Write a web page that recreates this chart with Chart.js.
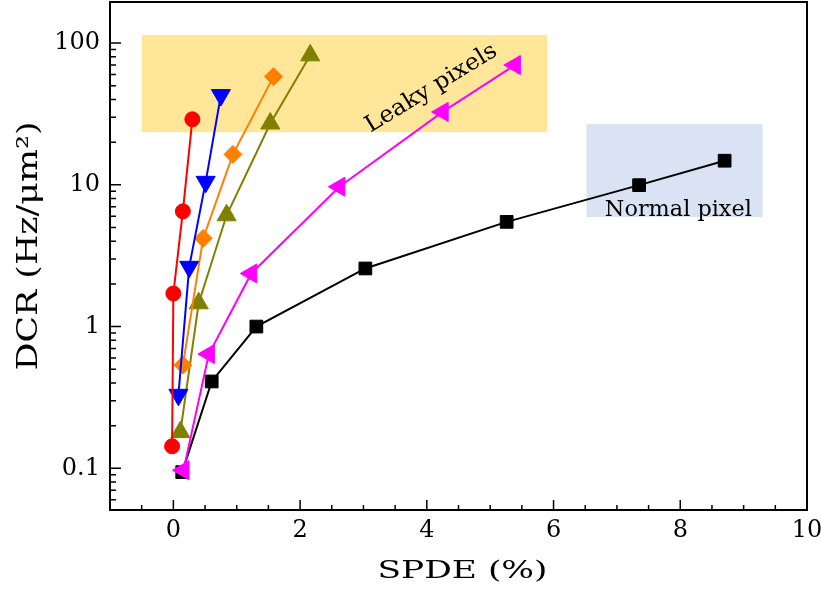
<!DOCTYPE html>
<html>
<head>
<meta charset="utf-8">
<script src="https://cdn.jsdelivr.net/npm/chart.js@4"></script>
<style>
  html, body { margin: 0; padding: 0; background: #fff; }
</style>
</head>
<body>
<canvas id="dcrChart" width="821" height="592"></canvas>
<script>
// SPDE (%) vs DCR (Hz/um^2)
const redX = [-0.02, 0.0, 0.15, 0.30];
const redY = [0.143, 1.71, 6.5, 29];
const blueX = [0.08, 0.25, 0.51, 0.75];
const blueY = [0.33, 2.64, 10.5, 43];
const orangeX = [0.15, 0.47, 0.94, 1.58];
const orangeY = [0.535, 4.19, 16.4, 58];
const oliveX = [0.11, 0.40, 0.84, 1.53, 2.16];
const oliveY = [0.18, 1.46, 6.1, 27.1, 82];
const magentaX = [0.16, 0.56, 1.23, 2.62, 4.25, 5.39];
const magentaY = [0.097, 0.64, 2.37, 9.7, 32.7, 70];
const blackX = [0.14, 0.605, 1.31, 3.03, 5.26, 7.35, 8.70];
const blackY = [0.094, 0.41, 1.0, 2.57, 5.48, 9.95, 14.8];

const xTicks = [0, 2, 4, 6, 8, 10];
const yTicks = [0.1, 1, 10, 100];

// shaded regions: [xmin, xmax, ymin, ymax]
const leakyBox = [-0.5, 5.9, 23.5, 114];
const normalBox = [6.52, 9.3, 5.92, 26.8];

const FONT = 'DejaVu Serif';

function series(xs, ys, color, style, radius, rotation) {
  return {
    data: xs.map((x, i) => ({ x: x, y: ys[i] })),
    showLine: true,
    borderColor: color,
    backgroundColor: color,
    borderWidth: 2,
    pointStyle: style,
    pointRadius: radius,
    pointRotation: rotation || 0,
    pointBorderWidth: 1,
    pointBorderColor: color,
    pointBackgroundColor: color
  };
}

// text squeezed/stretched to a measured width
function fitText(ctx, text, x, y, size, width, angle) {
  ctx.save();
  ctx.font = size + 'px "' + FONT + '"';
  const w = ctx.measureText(text).width;
  ctx.translate(x, y);
  ctx.rotate(angle || 0);
  ctx.scale(width / w, 1);
  ctx.fillStyle = '#000';
  ctx.textAlign = 'center';
  ctx.textBaseline = 'alphabetic';
  ctx.fillText(text, 0, 0);
  ctx.restore();
}

const overlay = {
  id: 'overlay',
  beforeDatasetsDraw(chart) {
    const { ctx, scales: { x, y } } = chart;
    [[leakyBox, '#ffe699'], [normalBox, '#dae3f3']].forEach(([b, c]) => {
      const l = x.getPixelForValue(b[0]), r = x.getPixelForValue(b[1]);
      const t = y.getPixelForValue(b[3]), btm = y.getPixelForValue(b[2]);
      ctx.save();
      ctx.fillStyle = c;
      ctx.fillRect(l, t, r - l, btm - t);
      ctx.restore();
    });
  },
  afterDraw(chart) {
    const { ctx, chartArea: a, scales: { x, y } } = chart;
    ctx.save();
    // frame
    ctx.strokeStyle = '#000';
    ctx.lineWidth = 2;
    ctx.strokeRect(a.left, a.top, a.right - a.left, a.bottom - a.top);

    // inward ticks
    ctx.lineWidth = 1.5;
    ctx.beginPath();
    for (let v = -0.5; v < 10; v += 0.5) {
      const px = x.getPixelForValue(v);
      const len = (v % 2 === 0) ? 10 : 5;
      ctx.moveTo(px, a.bottom);
      ctx.lineTo(px, a.bottom - len);
    }
    for (let e = -2; e <= 2; e++) {
      for (let m = 1; m <= 9; m++) {
        const v = m * Math.pow(10, e);
        if (v <= y.min || v >= y.max) continue;
        const py = y.getPixelForValue(v);
        const len = m === 1 ? 11 : 6;
        ctx.moveTo(a.left, py);
        ctx.lineTo(a.left + len, py);
      }
    }
    ctx.stroke();
    ctx.restore();

    // annotations
    fitText(ctx, 'Leaky pixels', x.getPixelForValue(4.12), y.getPixelForValue(44), 23, 150, -31.5 * Math.PI / 180);
    fitText(ctx, 'Normal pixel', x.getPixelForValue(7.97), y.getPixelForValue(6.0), 22, 147, 0);

    // axis titles
    const cx = (a.left + a.right) / 2;
    fitText(ctx, 'SPDE (%)', cx + 4, a.bottom + 68, 25, 170, 0);
    fitText(ctx, 'DCR (Hz/\u03bcm\u00b2)', 37, (a.top + a.bottom) / 2 - 10, 28, 249, -Math.PI / 2);
  }
};

new Chart(document.getElementById('dcrChart'), {
  type: 'scatter',
  data: {
    datasets: [
      series(redX, redY, '#ff0000', 'circle', 7.5),
      series(blueX, blueY, '#0000ff', 'triangle', 11, 180),
      series(orangeX, orangeY, '#ff8000', 'rectRot', 9),
      series(oliveX, oliveY, '#808000', 'triangle', 11),
      series(magentaX, magentaY, '#ff00ff', 'triangle', 11, 270),
      series(blackX, blackY, '#000000', 'rect', 9)
    ]
  },
  options: {
    responsive: false,
    animation: false,
    layout: { autoPadding: false, padding: { top: 2, right: 14, left: 0, bottom: 0 } },
    plugins: {
      legend: { display: false },
      tooltip: { enabled: false }
    },
    scales: {
      x: {
        type: 'linear',
        min: -1,
        max: 10,
        grid: { display: false, drawTicks: true, tickLength: 6 },
        border: { display: false },
        afterBuildTicks: s => { s.ticks = xTicks.map(v => ({ value: v })); },
        afterFit: s => { s.height = 82; s.paddingLeft = 0; s.paddingRight = 0; },
        ticks: {
          autoSkip: false,
          maxRotation: 0,
          padding: 0,
          color: '#000',
          font: { family: FONT, size: 24 }
        }
      },
      y: {
        type: 'logarithmic',
        min: 0.0508,
        max: 195,
        grid: { display: false, drawTicks: true, tickLength: 10 },
        border: { display: false },
        afterBuildTicks: s => { s.ticks = yTicks.map(v => ({ value: v })); },
        afterFit: s => { s.width = 110; s.paddingTop = 0; s.paddingBottom = 0; },
        ticks: {
          autoSkip: false,
          padding: 0,
          color: '#000',
          font: { family: FONT, size: 24 },
          callback: v => String(v)
        }
      }
    }
  },
  plugins: [overlay]
});
</script>
</body>
</html>
